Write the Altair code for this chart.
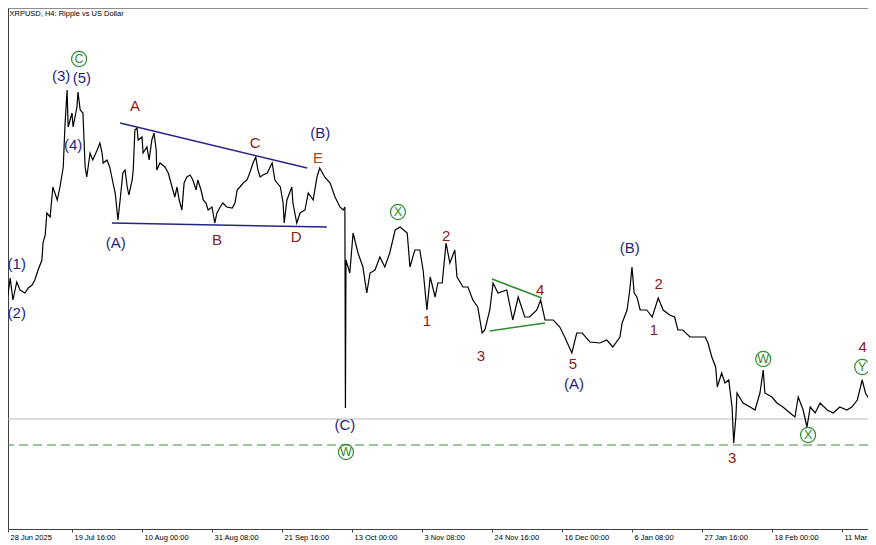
import altair as alt
import pandas as pd

# ---- price series (H4 bar index since 28 Jun 2025 08:00, close price) ----
bars = [0, 5, 11, 15, 20, 27, 33, 42, 48, 55,
        60, 66, 73, 75, 79, 82, 88, 93, 101, 106,
        112, 115, 119, 121, 128, 130, 137, 139, 143, 148,
        152, 155, 161, 166, 174, 179, 183, 185, 192, 197,
        203, 207, 212, 216, 221, 225, 229, 232, 238, 240,
        243, 247, 249, 256, 258, 265, 269, 274, 278, 282,
        283, 289, 298, 304, 311, 316, 320, 324, 329, 333,
        338, 344, 349, 355, 358, 364, 368, 373, 377, 384,
        389, 393, 399, 404, 411, 421, 426, 430, 435, 441,
        448, 453, 459, 464, 468, 472, 477, 485, 494, 499,
        509, 514, 516, 521, 530, 532, 539, 545, 554,
        560, 569, 576, 581, 590, 600, 609, 618, 624, 627,
        628, 629, 636, 642, 651, 660, 667, 673, 682, 691,
        700, 709, 719, 728, 741, 746, 755, 764, 770, 777,
        783, 792, 797, 805, 812, 819, 828, 832, 843, 852,
        861, 870, 878, 883, 892, 898, 907, 923, 934, 944,
        956, 965, 978, 985, 993, 1008, 1020, 1029, 1042, 1051,
        1061, 1075, 1093, 1106, 1117, 1130, 1134, 1143, 1148, 1152,
        1156, 1161, 1167, 1179, 1189, 1200, 1209, 1221, 1230, 1236,
        1245, 1258, 1271, 1286, 1291, 1298, 1305, 1308, 1316, 1322,
        1329, 1335, 1338, 1342, 1344, 1355, 1368, 1377, 1386, 1392,
        1395, 1408, 1417, 1428, 1441, 1450, 1456, 1465, 1472, 1478,
        1487, 1496, 1509, 1520, 1532, 1545, 1554, 1564, 1573, 1579,
        1587, 1597]
close = [2.128, 2.121, 2.135, 2.254, 2.100, 2.226, 2.170, 2.149, 2.184, 2.205,
         2.240, 2.310, 2.380, 2.499, 2.555, 2.709, 2.681, 2.891, 2.800, 2.891,
         3.031, 3.311, 3.570, 3.311, 3.409, 3.311, 3.451, 3.556, 3.430, 3.409,
         3.031, 2.961, 3.129, 3.080, 3.150, 3.199, 3.129, 3.059, 3.080, 3.031,
         2.919, 2.849, 2.660, 2.800, 2.989, 3.010, 2.891, 2.835, 2.940, 3.010,
         3.290, 3.304, 3.220, 3.241, 3.129, 3.171, 3.080, 3.220, 3.269, 3.150,
         3.010, 3.059, 3.031, 2.989, 2.891, 2.821, 2.891, 2.800, 2.730, 2.919,
         2.961, 2.975, 2.940, 2.870, 2.940, 2.870, 2.800, 2.779, 2.730, 2.751,
         2.639, 2.709, 2.751, 2.779, 2.751, 2.744, 2.779, 2.870, 2.891, 2.919,
         2.940, 2.989, 3.059, 3.101, 3.010, 2.961, 2.975, 2.989, 3.059, 2.940,
         2.891, 2.779, 2.639, 2.800, 2.891, 2.779, 2.639, 2.709, 2.730,
         2.849, 2.800, 2.961, 3.024, 2.961, 2.919, 2.821, 2.751, 2.730, 2.751,
         1.344, 2.380, 2.289, 2.569, 2.429, 2.331, 2.149, 2.289, 2.310, 2.401,
         2.331, 2.429, 2.590, 2.611, 2.569, 2.331, 2.450, 2.450, 2.310, 2.030,
         2.261, 2.121, 2.219, 2.219, 2.499, 2.359, 2.450, 2.261, 2.191, 2.191,
         2.100, 2.051, 1.869, 1.890, 2.030, 2.219, 2.149, 2.170, 1.960, 2.121,
         1.981, 1.981, 2.030, 2.100, 1.960, 1.960, 1.911, 1.841, 1.729, 1.869,
         1.869, 1.806, 1.799, 1.820, 1.771, 1.841, 1.939, 2.030, 2.170, 2.331,
         2.149, 2.121, 2.030, 2.030, 1.981, 2.114, 2.030, 1.995, 1.981, 1.890,
         1.890, 1.841, 1.841, 1.841, 1.799, 1.701, 1.631, 1.491, 1.589, 1.519,
         1.540, 1.351, 1.099, 1.281, 1.449, 1.379, 1.351, 1.330, 1.449, 1.610,
         1.449, 1.421, 1.379, 1.351, 1.309, 1.281, 1.421, 1.330, 1.211, 1.351,
         1.309, 1.379, 1.330, 1.309, 1.351, 1.330, 1.351, 1.400, 1.540, 1.449,
         1.400, 1.379]
assert len(bars) == len(close)

# ---- x axis ticks ----
tick_bars = [11, 128, 256, 384, 512, 640, 768, 896, 1024, 1152, 1280, 1408, 1536]
tick_labels = ["28 Jun 2025", "19 Jul 16:00", "10 Aug 00:00", "31 Aug 08:00",
               "21 Sep 16:00", "13 Oct 00:00", "3 Nov 08:00", "24 Nov 16:00",
               "16 Dec 00:00", "6 Jan 08:00", "27 Jan 16:00", "18 Feb 00:00",
               "11 Mar 08"]

# ---- wave labels ----
BLUE = "#1f1f82"
RED = "#8b1a1a"
BROWN = "#a0461c"
GREEN = "#2e8b2e"
lab_text = ["(1)", "(2)", "(3)", "(5)", "(4)", "(A)", "A", "B", "C", "D", "E", "(B)",
            "(C)", "2", "1", "3", "4", "5", "(A)", "(B)", "2", "1", "3", "4"]
lab_bar = [27, 27, 108, 146, 130, 208, 243, 393, 463, 538, 578, 582,
           627, 812, 777, 876, 984, 1044, 1046, 1148, 1201, 1192, 1335, 1574]
lab_price = [2.352, 2.009, 3.668, 3.654, 3.185, 2.499, 3.458, 2.520, 3.199, 2.541, 3.094, 3.269,
             1.225, 2.548, 1.953, 1.708, 2.170, 1.652, 1.512, 2.464, 2.212, 1.890, 0.994, 1.771]
lab_color = [BLUE, BLUE, BLUE, BLUE, BLUE, BLUE, RED, RED, RED, RED, BROWN, BLUE,
             BLUE, RED, RED, RED, RED, RED, BLUE, BLUE, RED, RED, RED, RED]

circ_text = ["C", "X", "W", "W", "X", "Y"]
circ_bar = [141, 724, 629, 1392, 1474, 1573]
circ_price = [3.787, 2.716, 1.036, 1.687, 1.155, 1.631]

# ---- trend lines (triangles) ----
trend_bar1 = [216, 201, 896, 892]
trend_bar2 = [558, 594, 987, 993]
trend_p1 = [3.339, 2.639, 2.247, 1.883]
trend_p2 = [3.024, 2.611, 2.114, 1.939]
trend_col = ["#24248a", "#24248a", "#2e8b2e", "#2e8b2e"]

gray_level = [1.267]
dashed_level = [1.085]

# ---------------------------------------------------------------
W, H = 860, 521
xs = alt.Scale(domain=[10.97, 1583.6], nice=False, zero=False)
ys = alt.Scale(domain=[0.497, 4.144], nice=False, zero=False)

label_arr = "[" + ",".join("'" + t + "'" for t in tick_labels) + "]"
xaxis = alt.Axis(values=tick_bars, labelExpr=label_arr + "[round(datum.value/128)]",
                 title=None, grid=False, labelAlign="left", labelOffset=2,
                 labelPadding=1, tickSize=3, labelFont="Liberation Sans",
                 labelFontSize=7.5, labelColor="#000000", tickColor="#404040",
                 domainColor="#404040", labelOverlap=False, labelFlush=False,
                 labelBound=False)
yaxis = alt.Axis(labels=False, ticks=False, title=None, grid=False,
                 domainColor="#404040")


def X(f):
    return alt.X(f, type="quantitative", scale=xs, axis=xaxis)


def Y(f):
    return alt.Y(f, type="quantitative", scale=ys, axis=yaxis)


price_df = pd.DataFrame({"bar": bars, "price": close})
lab_df = pd.DataFrame({"bar": lab_bar, "price": lab_price, "t": lab_text, "c": lab_color})
circ_df = pd.DataFrame({"bar": circ_bar, "price": circ_price, "t": circ_text})
trend_df = pd.DataFrame({"bar": trend_bar1, "bar2": trend_bar2, "price": trend_p1,
                         "price2": trend_p2, "c": trend_col})

gray = alt.Chart(pd.DataFrame({"price": gray_level})).mark_rule(
    color="#b8b8b8", strokeWidth=1).encode(y=Y("price"))
dashed = alt.Chart(pd.DataFrame({"price": dashed_level})).mark_rule(
    color="#3c8c3c", strokeWidth=1, strokeDash=[9, 5]).encode(y=Y("price"))
top = alt.Chart(pd.DataFrame({"price": gray_level})).mark_rule(
    color="#404040", strokeWidth=1).encode(y=alt.value(0), x=alt.value(0), x2=alt.value(W))

trends = alt.Chart(trend_df).mark_rule(strokeWidth=1.5, clip=True).encode(
    x=X("bar"), x2="bar2", y=Y("price"), y2="price2",
    color=alt.Color("c:N", scale=None))

line = alt.Chart(price_df).mark_line(color="#000000", strokeWidth=1.2, clip=True).encode(
    x=X("bar"), y=Y("price"))

labels = alt.Chart(lab_df).mark_text(font="Liberation Sans", fontSize=15,
                                     align="center", baseline="middle", clip=True).encode(
    x=X("bar"), y=Y("price"), text="t:N", color=alt.Color("c:N", scale=None))

circles = alt.Chart(circ_df).mark_point(shape="circle", filled=False, size=227,
                                         strokeWidth=1.2, color=GREEN, opacity=1).encode(
    x=X("bar"), y=Y("price"))
circ_lab = alt.Chart(circ_df).mark_text(font="Liberation Sans", fontSize=12.5,
                                         align="center", baseline="middle", color=GREEN).encode(
    x=X("bar"), y=Y("price"), text="t:N")

chart = alt.layer(gray, dashed, top, trends, line, labels, circles, circ_lab).properties(
    width=W, height=H,
    autosize=alt.AutoSizeParams(type="none"),
    padding={"left": 0, "top": 0, "right": 0, "bottom": 16},
    title=alt.TitleParams("XRPUSD, H4:  Ripple vs US Dollar", anchor="start",
                          fontSize=7.5, font="Liberation Sans", fontWeight="normal",
                          offset=-10, dx=2, color="#000000"),
).configure_view(stroke=None).configure(background="white")

chart.save("out.html", embed_options={"renderer": "svg", "actions": False})
